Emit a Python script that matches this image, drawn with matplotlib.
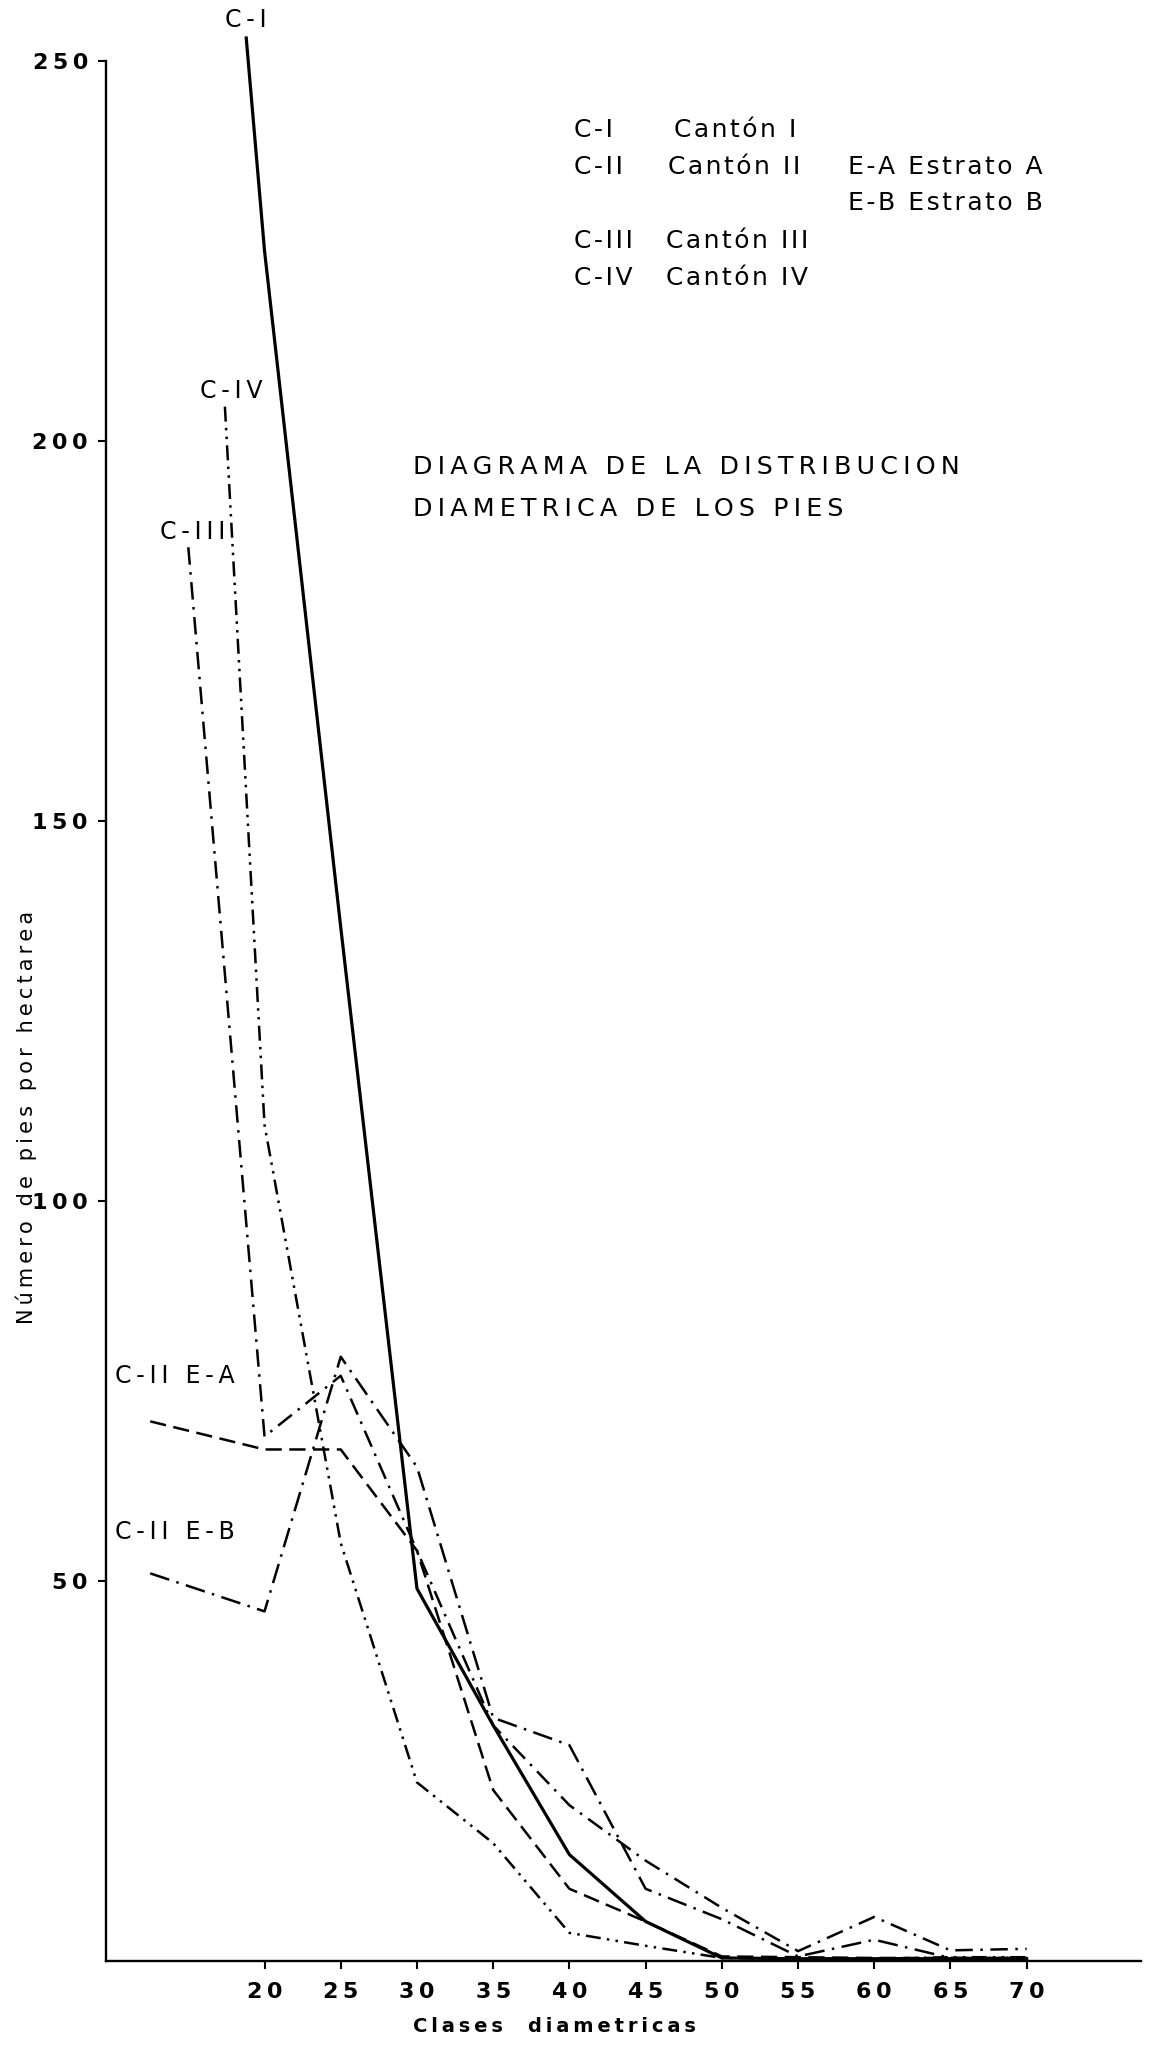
import matplotlib
matplotlib.use("Agg")
import matplotlib.pyplot as plt

# =============================================================================
# DATOS
# =============================================================================
clases = [20, 25, 30, 35, 40, 45, 50, 55, 60, 65, 70]

c1_x = [18.8] + clases
c1_y = [253, 225, 136, 49, 31, 14, 5.2, 0.4, 0.3, 0.3, 0.3, 0.3]

c3_x = [15.0] + clases
c3_y = [186, 69, 77, 54, 31, 20.5, 13.2, 7.0, 1.3, 5.8, 1.4, 1.6]

c4_x = [17.4] + clases
c4_y = [204.5, 110, 55, 23.5, 15.5, 3.7, 2.0, 0.4, 0.3, 0.3, 0.5, 0.5]

ea_x = [12.5] + clases
ea_y = [71, 67.3, 67.3, 54, 22.5, 9.5, 5.2, 0.6, 0.5, 0.4, 0.4, 0.4]

eb_x = [12.5] + clases
eb_y = [51, 46, 79.5, 65, 32, 28.4, 9.5, 5.5, 0.6, 2.8, 0.4, 0.4]

y_ticks = [50, 100, 150, 200, 250]


def espaciado(s, sep="\u2009"):
    # imita el rotulado a plantilla, con letras separadas
    return sep.join(s)


W, H = 1153, 2045
fig = plt.figure(figsize=(W / 100, H / 100), dpi=100, facecolor="white")
ax = fig.add_axes([106 / W, 84 / H, 1035 / W, 1961 / H])
ax.set_xlim(9.6, 77.5)
ax.set_ylim(0, 258)

lw = 1.8
ax.plot(c1_x, c1_y, color="black", lw=2.3, ls="-", clip_on=False)
ax.plot(c3_x, c3_y, color="black", lw=lw, ls=(0, (7, 3, 1, 3)), clip_on=False)
ax.plot(c4_x, c4_y, color="black", lw=lw, ls=(0, (6, 2.5, 1, 2.5, 1, 2.5)), clip_on=False)
ax.plot(ea_x, ea_y, color="black", lw=lw, ls=(0, (6.5, 3)), clip_on=False)
ax.plot(eb_x, eb_y, color="black", lw=lw, ls=(0, (8, 3, 1, 3)), clip_on=False)

for s in ["top", "right"]:
    ax.spines[s].set_visible(False)
ax.spines["left"].set_bounds(0, 250)
ax.spines["left"].set_linewidth(1.7)
ax.spines["bottom"].set_linewidth(1.7)

ax.set_xticks(clases)
ax.set_xticklabels([espaciado(str(c)) for c in clases], fontsize=16, fontweight="bold")
ax.set_yticks(y_ticks)
ax.set_yticklabels([espaciado(str(v)) for v in y_ticks], fontsize=16, fontweight="bold")
ax.tick_params(axis="y", direction="out", length=6, width=1.5, pad=7)
ax.tick_params(axis="x", direction="out", length=6, width=1.5, pad=9)

ax.set_ylabel(espaciado("Número de pies por hectarea"), fontsize=15)
ax.yaxis.set_label_coords(-0.067, 0.43)
ax.set_xlabel(espaciado("Clases  diametricas"), fontsize=14, fontweight="bold", va="center")
ax.xaxis.set_label_coords(0.433, -(2027 - 1961) / 1961)

# rótulos de las curvas
lab = dict(fontsize=17, va="center", clip_on=False)
ax.text(18.8, 255.4, espaciado("C-I"), ha="center", **lab)
ax.text(17.8, 206.6, espaciado("C-IV"), ha="center", **lab)
ax.text(15.3, 188.0, espaciado("C-III"), ha="center", **lab)
ax.text(10.2, 77.0, espaciado("C-II E-A"), ha="left", **lab)
ax.text(10.2, 56.5, espaciado("C-II E-B"), ha="left", **lab)


# leyenda y título (coordenadas de figura, en píxeles)
def ftxt(x, y, s, sep="\u200a", **kw):
    fig.text(x / W, 1 - y / H, espaciado(s, sep), va="center", ha="left", **kw)


fs = 18
ftxt(574, 130, "C-I", fontsize=fs)
ftxt(674, 130, "Cantón I", fontsize=fs)
ftxt(574, 167, "C-II", fontsize=fs)
ftxt(668, 167, "Cantón II", fontsize=fs)
ftxt(848, 167, "E-A Estrato A", fontsize=fs)
ftxt(848, 203, "E-B Estrato B", fontsize=fs)
ftxt(574, 241, "C-III", fontsize=fs)
ftxt(666, 241, "Cantón III", fontsize=fs)
ftxt(574, 278, "C-IV", fontsize=fs)
ftxt(666, 278, "Cantón IV", fontsize=fs)

ftxt(413, 467, "DIAGRAMA DE LA DISTRIBUCION", sep="\u2009", fontsize=18.3)
ftxt(413, 509, "DIAMETRICA DE LOS PIES", sep="\u2009", fontsize=18.3)

fig.savefig("out.png", dpi=100, facecolor="white")
